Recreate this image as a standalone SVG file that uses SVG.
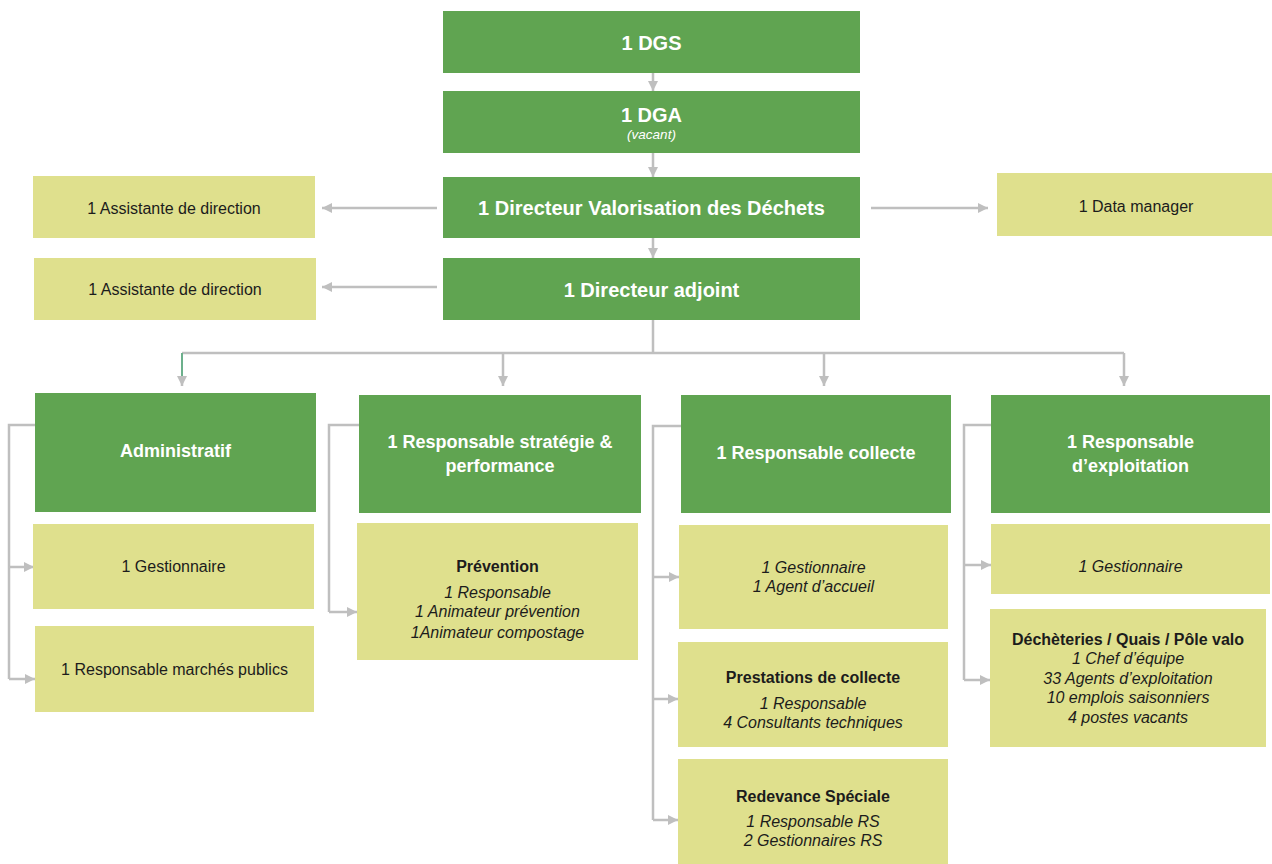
<svg xmlns="http://www.w3.org/2000/svg" width="1272" height="864" viewBox="0 0 1272 864">
<style>
  .g { fill: #60a451; }
  .y { fill: #dfe08d; }
  .tw { fill: #ffffff; font-family: "Liberation Sans", Arial, sans-serif; font-weight: bold; text-anchor: middle; }
  .t1 { font-size: 20px; }
  .t2 { font-size: 18px; }
  .td { fill: #1c1c1c; font-family: "Liberation Sans", Arial, sans-serif; font-size: 16px; text-anchor: middle; }
  .b { font-weight: bold; }
  .i { font-style: italic; }
  .c { fill: none; stroke: #bfbfbf; stroke-width: 2.5; }
  .a { marker-end: url(#arr); }
</style>
<defs>
  <marker id="arr" viewBox="0 0 10 10" refX="10" refY="5" markerWidth="10" markerHeight="10" markerUnits="userSpaceOnUse" orient="auto">
    <path d="M0,0 L10,5 L0,10 z" fill="#bfbfbf"/>
  </marker>
</defs>

<g id="connectors">
  <line class="c a" x1="653" y1="73" x2="653" y2="91"/>
  <line class="c a" x1="653" y1="153" x2="653" y2="177"/>
  <line class="c a" x1="653" y1="238" x2="653" y2="258"/>
  <line class="c a" x1="437" y1="208" x2="322" y2="208"/>
  <line class="c a" x1="437" y1="287" x2="322" y2="287"/>
  <line class="c a" x1="871" y1="208" x2="988" y2="208"/>
  <polyline class="c" points="653,320 653,353"/>
  <polyline class="c" points="182,353 1124,353"/>
  <line class="c" x1="182" y1="353" x2="182" y2="377" style="stroke:#6cb08c;stroke-width:2"/>
  <line class="c a" x1="182" y1="376" x2="182" y2="386"/>
  <line class="c a" x1="503" y1="353" x2="503" y2="386"/>
  <line class="c a" x1="824" y1="353" x2="824" y2="386"/>
  <line class="c a" x1="1124" y1="353" x2="1124" y2="386"/>
  <polyline class="c" points="35,425 9,425 9,679"/>
  <line class="c a" x1="9" y1="567" x2="34" y2="567"/>
  <line class="c a" x1="9" y1="679" x2="35" y2="679"/>
  <polyline class="c" points="359,425 329,425 329,612"/>
  <line class="c a" x1="329" y1="612" x2="357" y2="612"/>
  <polyline class="c" points="681,426 653,426 653,820"/>
  <line class="c a" x1="653" y1="577" x2="679" y2="577"/>
  <line class="c a" x1="653" y1="699" x2="678" y2="699"/>
  <line class="c a" x1="653" y1="820" x2="678" y2="820"/>
  <polyline class="c" points="991,425 964,425 964,680"/>
  <line class="c a" x1="964" y1="565" x2="991" y2="565"/>
  <line class="c a" x1="964" y1="680" x2="990" y2="680"/>
</g>

<g id="dgs">
  <rect class="g" x="443" y="11" width="417" height="62"/>
  <text class="tw t1" x="651.5" y="50">1 DGS</text>
</g>
<g id="dga">
  <rect class="g" x="443" y="91" width="417" height="62"/>
  <text class="tw t1" x="651.5" y="122">1 DGA</text>
  <text class="tw i" x="651.5" y="139" style="font-weight:normal;font-size:13.5px">(vacant)</text>
</g>
<g id="directeur">
  <rect class="g" x="443" y="177" width="417" height="61"/>
  <text class="tw t1" x="651.5" y="215">1 Directeur Valorisation des Déchets</text>
</g>
<g id="adjoint">
  <rect class="g" x="443" y="258" width="417" height="62"/>
  <text class="tw t1" x="651.5" y="297">1 Directeur adjoint</text>
</g>
<g id="assistante1">
  <rect class="y" x="33" y="176" width="282" height="62"/>
  <text class="td" x="174" y="214">1 Assistante de direction</text>
</g>
<g id="assistante2">
  <rect class="y" x="34" y="258" width="282" height="62"/>
  <text class="td" x="175" y="295">1 Assistante de direction</text>
</g>
<g id="datamanager">
  <rect class="y" x="997" y="173" width="275" height="63"/>
  <text class="td" x="1136" y="212">1 Data manager</text>
</g>

<g id="administratif">
  <rect class="g" x="35" y="393" width="281" height="119"/>
  <text class="tw t2" x="175.5" y="457">Administratif</text>
</g>
<g id="adm-gestionnaire">
  <rect class="y" x="33" y="524" width="281" height="85"/>
  <text class="td" x="173.5" y="572">1 Gestionnaire</text>
</g>
<g id="adm-marches">
  <rect class="y" x="35" y="626" width="279" height="86"/>
  <text class="td" x="174.5" y="675">1 Responsable marchés publics</text>
</g>

<g id="strategie">
  <rect class="g" x="359" y="395" width="282" height="118"/>
  <text class="tw t2" x="500" y="448">1 Responsable stratégie &amp;</text>
  <text class="tw t2" x="500" y="472">performance</text>
</g>
<g id="prevention">
  <rect class="y" x="357" y="523" width="281" height="137"/>
  <text class="td b" x="497.5" y="572">Prévention</text>
  <text class="td i" x="497.5" y="598">1 Responsable</text>
  <text class="td i" x="497.5" y="617">1 Animateur prévention</text>
  <text class="td i" x="497.5" y="638">1Animateur compostage</text>
</g>

<g id="collecte">
  <rect class="g" x="681" y="395" width="270" height="118"/>
  <text class="tw t2" x="816" y="459">1 Responsable collecte</text>
</g>
<g id="col-gestionnaire">
  <rect class="y" x="679" y="525" width="269" height="104"/>
  <text class="td i" x="813.5" y="573">1 Gestionnaire</text>
  <text class="td i" x="813.5" y="592">1 Agent d’accueil</text>
</g>
<g id="col-prestations">
  <rect class="y" x="678" y="642" width="270" height="105"/>
  <text class="td b" x="813" y="683">Prestations de collecte</text>
  <text class="td i" x="813" y="709">1 Responsable</text>
  <text class="td i" x="813" y="728">4 Consultants techniques</text>
</g>
<g id="col-redevance">
  <rect class="y" x="678" y="759" width="270" height="105"/>
  <text class="td b" x="813" y="802">Redevance Spéciale</text>
  <text class="td i" x="813" y="827">1 Responsable RS</text>
  <text class="td i" x="813" y="846">2 Gestionnaires RS</text>
</g>

<g id="exploitation">
  <rect class="g" x="991" y="395" width="279" height="118"/>
  <text class="tw t2" x="1130.5" y="448">1 Responsable</text>
  <text class="tw t2" x="1130.5" y="472">d’exploitation</text>
</g>
<g id="exp-gestionnaire">
  <rect class="y" x="991" y="524" width="279" height="70"/>
  <text class="td i" x="1130.5" y="572">1 Gestionnaire</text>
</g>
<g id="exp-decheteries">
  <rect class="y" x="990" y="609" width="276" height="138"/>
  <text class="td b" x="1128" y="645">Déchèteries / Quais / Pôle valo</text>
  <text class="td i" x="1128" y="664">1 Chef d’équipe</text>
  <text class="td i" x="1128" y="684">33 Agents d’exploitation</text>
  <text class="td i" x="1128" y="703">10 emplois saisonniers</text>
  <text class="td i" x="1128" y="723">4 postes vacants</text>
</g>
</svg>
